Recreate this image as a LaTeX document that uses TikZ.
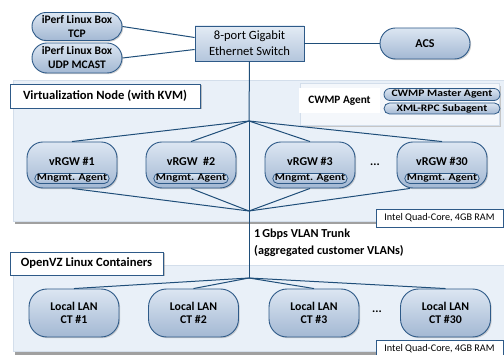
\documentclass[tikz,border=0pt]{standalone}
\usepackage{fontspec}
\usepackage{graphicx}
\setmainfont{Carlito}
\usetikzlibrary{shadows,shapes.misc,calc}

\definecolor{edgeblue}{HTML}{1F4E79}
\definecolor{nodeborder}{HTML}{2E5A88}
\definecolor{nodetop}{HTML}{DCE6F2}
\definecolor{nodebot}{HTML}{A3B8D3}
\definecolor{panelfill}{HTML}{E9F0F8}
\definecolor{panelline}{HTML}{D3DEEB}
\definecolor{panelshadow}{HTML}{A0A0A0}
\definecolor{cwmpfill}{HTML}{F4F7FB}

\newcommand{\fsz}[2]{\fontsize{#1}{#2}\selectfont}
% slightly widened lettering for the small agent labels
\newcommand{\widetext}[1]{\scalebox{1.16}[1]{#1}}

\begin{document}
\begin{tikzpicture}[x=1pt,y=-1pt,
  wire/.style={draw=edgeblue,line width=1pt},
  shaded/.style={top color=nodetop,bottom color=nodebot,draw=nodeborder,line width=0.9pt,
    drop shadow={opacity=0.35,shadow xshift=1.2pt,shadow yshift=-1.2pt}},
  pill/.style={shaded,rounded rectangle,inner sep=0pt,align=center,font=\bfseries\fsz{11.5}{14}},
  roundbox/.style={shaded,rectangle,rounded corners=#1,inner sep=0pt},
  minipill/.style={rounded rectangle,inner sep=0pt,top color=nodetop,bottom color=nodebot,
    draw=nodeborder,line width=0.8pt,minimum height=12pt,font=\bfseries\fsz{10}{12}},
  labelbox/.style={draw=nodeborder,line width=0.9pt,fill=white,inner sep=0pt,
    drop shadow={opacity=0.45,shadow xshift=1.5pt,shadow yshift=-1.5pt,fill=gray}},
  title/.style={font=\bfseries\fsz{12}{14},align=center,inner sep=0pt},
  infobox/.style={draw=nodeborder,line width=0.7pt,fill=white,inner sep=0pt,
    minimum width=127pt,minimum height=18pt,font=\fsz{10.2}{12}},
  dots/.style={font=\bfseries\fsz{12}{14},inner sep=0pt}
]
\useasboundingbox (0,0) rectangle (504,355);

% ---------- panels ----------
\fill[panelshadow] (15,220) rectangle (504,224);
\filldraw[fill=panelfill,draw=panelline,line width=0.6pt] (13,80) rectangle (506,221.5);
\fill[panelshadow] (15,351) rectangle (504,355);
\filldraw[fill=panelfill,draw=panelline,line width=0.6pt] (13,265) rectangle (506,351.5);

% CWMP agent sub-panel
\fill[panelshadow!60] (302,86) rectangle (501,127);
\filldraw[fill=cwmpfill,draw=panelline,line width=0.5pt] (300,83) rectangle (499,125);
\node[fill=white,inner sep=0pt,minimum width=81pt,minimum height=25pt,
  font=\bfseries\fsz{11.3}{13}] (cwmp) at (339.5,100.5) {CWMP Agent};
\node[minipill,minimum width=116pt] (master) at (442,94.5) {\widetext{CWMP Master Agent}};
\node[minipill,minimum width=116pt,minimum height=11pt] (xmlrpc) at (442,108.5) {\widetext{XML-RPC Subagent}};

% panel labels
\node[labelbox,minimum width=190pt,minimum height=24pt,font=\bfseries\fsz{12.6}{14}]
  (vnode) at (105,96) {Virtualization Node (with KVM)};
\node[labelbox,minimum width=153pt,minimum height=23pt,font=\bfseries\fsz{12.6}{14}]
  (ovz) at (86.5,263.5) {OpenVZ Linux Containers};

% ---------- top row ----------
\node[pill,minimum width=90pt,minimum height=28pt] (tcp) at (77,26.5) {iPerf Linux Box\\TCP};
\node[pill,minimum width=90pt,minimum height=30pt] (udp) at (77,58) {iPerf Linux Box\\UDP MCAST};
\node[shaded,rectangle,inner sep=0pt,minimum width=109pt,minimum height=35pt,
  top color=nodetop!80!white,bottom color=nodebot!70!nodetop,
  align=center,font=\fsz{12.6}{16}] (switch) at (249.5,43.5) {8-port Gigabit\\Ethernet Switch};
\node[pill,minimum width=90pt,minimum height=31pt,font=\bfseries\fsz{12}{14}] (acs) at (425,43.5) {ACS};

% ---------- hubs ----------
\coordinate (h1) at (249,121);
\coordinate (h2) at (249,211);
\coordinate (h3) at (249,278);

% ---------- vRGW instances ----------
\foreach \n/\x/\t in {1/72/vRGW \#1, 2/191/vRGW\ \ \#2, 3/310/vRGW \#3, 30/442/vRGW \#30}{
  \node[roundbox=16pt,minimum width=90pt,minimum height=46pt] (v\n) at (\x,165) {};
  \node[title] (v\n t) at (\x,161) {\t};
  \node[minipill,minimum width=72pt,minimum height=10pt,font=\bfseries\fsz{10}{11}]
    (v\n a) at (\x,178.5) {\widetext{Mngmt. Agent}};
}
\node[dots] (vdots) at (375,165) {...};

% ---------- containers ----------
\foreach \n/\x in {1/74,2/193.5,3/314,30/445.5}{
  \node[roundbox=18pt,minimum width=90pt,minimum height=48pt,align=center,
    font=\bfseries\fsz{11.8}{13.5}] (c\n) at (\x,313) {Local LAN\\CT \#\n};
}
\node[dots] (cdots) at (377,312) {...};

% ---------- info boxes ----------
\node[infobox] (hw1) at (439.5,218) {Intel Quad-Core, 4GB RAM};
\node[infobox] (hw2) at (439.5,349) {Intel Quad-Core, 4GB RAM};

\node[anchor=west,align=left,inner sep=0pt,font=\bfseries\fsz{12.2}{17}]
  (trunk) at (254,242.5) {1\,Gbps VLAN Trunk\\(aggregated customer VLANs)};

% ---------- connectors ----------
\draw[wire] (tcp.east) -- ($(switch.west)+(0,-6)$);
\draw[wire] (udp.east) -- ($(switch.west)+(0,6)$);
\draw[wire] (switch.east) -- (acs.west);
\draw[wire] (switch.south) -- (h1);
\foreach \n in {1,2,3,30}{\draw[wire] (h1) -- (v\n.north);}
\draw[wire] (h1) -- (h2);
\draw[wire] (h2) -- (v1.south);
\draw[wire] (h2) -- (v2.south);
\draw[wire] (h2) -- (v3.south);
\draw[wire] (h2) -- ($(v30.south)+(-32,0)$);
\draw[wire] (h2) -- (h3);
\foreach \n in {1,2,3,30}{\draw[wire] (h3) -- (c\n.north);}
\end{tikzpicture}
\end{document}
